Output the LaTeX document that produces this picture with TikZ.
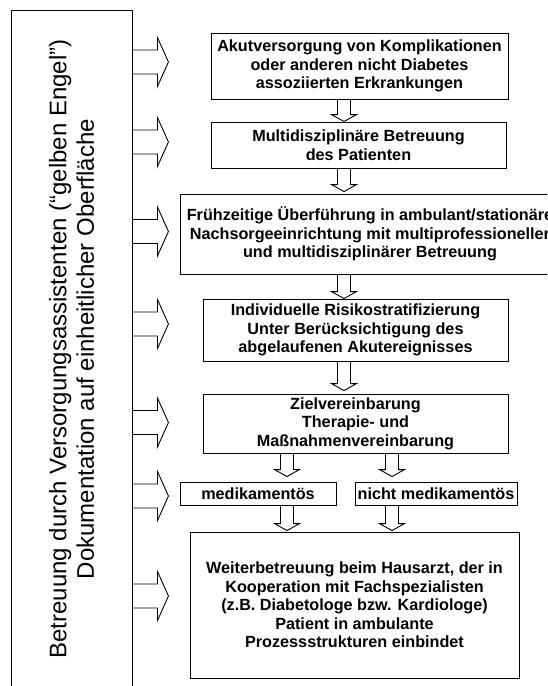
\documentclass[tikz,border=0pt]{standalone}
\usepackage{fontspec}
\setmainfont{Liberation Sans}

% hollow arrow from the left frame to a box (#1 target, #2 shift)
\newcommand{\sidearrow}[2]{%
  \path (leftbox.east |- #1) ++(0,#2) coordinate (sa);
  \draw[hollow] (sa) ++(0,-12) -- ++(25,0) -- ++(0,-12.5) -- ++(11,24.5) -- ++(-11,24.5) -- ++(0,-12.5) -- ++(-25,0);
}
% hollow arrow downwards (#1 from, #2 to, #3 x, #4 gap)
\newcommand{\dnarrow}[4]{%
  \path (#3,0 |- #2) ++(0,-#4) coordinate (da);
  \draw[hollow] (#3-6.5,0 |- #1) -- ([shift={(-6.5,-7)}]da) -- ++(-6,0) -- (da) -- ++(12.5,-7) -- ++(-6,0) -- (#3+6.5,0 |- #1);
}

\begin{document}
\begin{tikzpicture}[x=1pt,y=-1pt,
  box/.style={draw,line width=.9pt,inner sep=0pt,align=center,font=\fontsize{16.2}{18.6}\selectfont\bfseries},
  hollow/.style={draw,line width=.9pt,line join=miter}]
\useasboundingbox (0,0) rectangle (547,686);
\clip (0,0) rectangle (547,686);

% left frame
\node[draw,line width=.9pt,minimum width=121,minimum height=678,inner sep=0pt] (leftbox) at (71.5,349) {};
\node[rotate=90,align=center,font=\fontsize{24}{27.6}\selectfont] (lefttext) at (leftbox.center) {Betreuung durch Versorgungsassistenten (“gelben Engel”)\\Dokumentation auf einheitlicher Oberfläche};

% boxes
\node[box,minimum width=297,minimum height=66] (acute) at (359.5,66) {Akutversorgung von Komplikationen\\oder anderen nicht Diabetes\\assoziierten Erkrankungen};
\node[box,minimum width=295,minimum height=46] (multi) at (358.5,145) {Multidisziplinäre Betreuung\\des Patienten};
\node[box,minimum width=380,minimum height=80] (aftercare) at (370,234) {Frühzeitige Überführung in ambulant/stationäre\\Nachsorgeeinrichtung mit multiprofessioneller\\und multidisziplinärer Betreuung};
\node[box,minimum width=305,minimum height=62] (risk) at (355.5,330) {Individuelle Risikostratifizierung\\Unter Berücksichtigung des\\abgelaufenen Akutereignisses};
\node[box,minimum width=305,minimum height=59] (goals) at (355.5,423.5) {Zielvereinbarung\\Therapie- und\\Maßnahmenvereinbarung};
\node[box,minimum width=156,minimum height=23] (med) at (258,493.5) {medikamentös};
\node[box,minimum width=162,minimum height=23] (nonmed) at (436,493.5) {nicht medikamentös};
\node[box,minimum width=329,minimum height=146] (gp) at (354.5,605) {Weiterbetreuung beim Hausarzt, der in\\Kooperation mit Fachspezialisten\\(z.B. Diabetologe bzw. Kardiologe)\\Patient in ambulante\\Prozessstrukturen einbindet};

% arrows from the frame
\sidearrow{acute}{-4}
\sidearrow{multi}{-3}
\sidearrow{aftercare}{-2.5}
\sidearrow{risk}{-6}
\sidearrow{goals}{-1}
\sidearrow{med}{2.5}
\sidearrow{gp}{-9}

% arrows down
\dnarrow{acute.south}{multi.north}{344}{0}
\dnarrow{multi.south}{aftercare.north}{344}{2}
\dnarrow{aftercare.south}{risk.north}{344}{0}
\dnarrow{risk.south}{goals.north}{344}{3}
\dnarrow{goals.south}{med.north}{287}{5}
\dnarrow{goals.south}{nonmed.north}{392}{5}
\dnarrow{med.south}{gp.north}{287}{1}
\dnarrow{nonmed.south}{gp.north}{392}{1}
\end{tikzpicture}
\end{document}
